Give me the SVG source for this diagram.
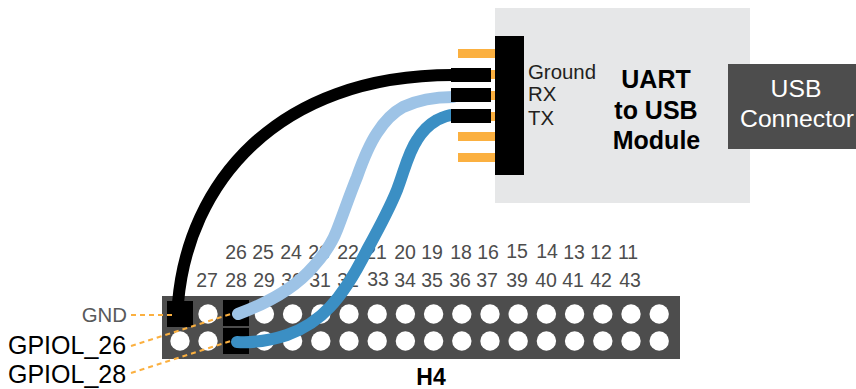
<svg xmlns="http://www.w3.org/2000/svg" width="856" height="389" viewBox="0 0 856 389">
<style>
text{font-family:"Liberation Sans",Arial,sans-serif}
.n{font-size:19.5px;fill:#4d4d4d;text-anchor:middle}
.l{font-size:20.4px;fill:#231f20}
.h{fill:#fff}
.pin{fill:#fbb040}
.blk{fill:#000}
.g{font-size:25px;fill:#000}
.b{font-size:25px;font-weight:bold;fill:#000;text-anchor:middle}
.d{fill:none;stroke:#fbb040;stroke-width:2;stroke-dasharray:5 4}
.w{fill:none;stroke-width:12;stroke-linecap:round}
.u{font-size:24.7px;fill:#fff;text-anchor:middle}
</style>
<g id="uart-module">
<rect x="495" y="8" width="255" height="195" fill="#e6e7e8"/>
<rect class="pin" x="458" y="49" width="39" height="9"/>
<rect class="pin" x="458" y="70" width="39" height="9"/>
<rect class="pin" x="458" y="91" width="39" height="9"/>
<rect class="pin" x="458" y="112" width="39" height="9"/>
<rect class="pin" x="458" y="132" width="39" height="9"/>
<rect class="pin" x="458" y="153" width="39" height="9"/>
<rect class="blk" x="495" y="36" width="29" height="139"/>
<text class="l" x="528" y="79">Ground</text>
<text class="l" x="528" y="101">RX</text>
<text class="l" x="528" y="125">TX</text>
<text class="b" x="656" y="88">UART</text>
<text class="b" x="656" y="119">to USB</text>
<text class="b" x="656.500" y="149">Module</text>
</g>
<g id="usb-connector">
<rect x="728" y="64" width="128" height="85" fill="#4d4d4d"/>
<text class="u" x="796" y="97">USB</text>
<text class="u" x="797" y="127">Connector</text>
</g>
<g id="header-h4">
<rect x="162" y="296" width="518" height="63" fill="#4d4d4d"/>
<g id="holes">
<circle class="h" cx="208" cy="314" r="9.7"/><circle class="h" cx="264.400" cy="314" r="9.7"/><circle class="h" cx="292.600" cy="314" r="9.7"/><circle class="h" cx="320.800" cy="314" r="9.7"/><circle class="h" cx="349" cy="314" r="9.7"/><circle class="h" cx="377.200" cy="314" r="9.7"/><circle class="h" cx="405.400" cy="314" r="9.7"/><circle class="h" cx="433.600" cy="314" r="9.7"/><circle class="h" cx="461.800" cy="314" r="9.7"/><circle class="h" cx="490" cy="314" r="9.7"/><circle class="h" cx="518.200" cy="314" r="9.7"/><circle class="h" cx="546.400" cy="314" r="9.7"/><circle class="h" cx="574.600" cy="314" r="9.7"/><circle class="h" cx="602.800" cy="314" r="9.7"/><circle class="h" cx="631" cy="314" r="9.7"/><circle class="h" cx="659.200" cy="314" r="9.7"/>
<circle class="h" cx="180" cy="341" r="9.7"/><circle class="h" cx="208" cy="341" r="9.7"/><circle class="h" cx="264.400" cy="341" r="9.7"/><circle class="h" cx="292.600" cy="341" r="9.7"/><circle class="h" cx="320.800" cy="341" r="9.7"/><circle class="h" cx="349" cy="341" r="9.7"/><circle class="h" cx="377.200" cy="341" r="9.7"/><circle class="h" cx="405.400" cy="341" r="9.7"/><circle class="h" cx="433.600" cy="341" r="9.7"/><circle class="h" cx="461.800" cy="341" r="9.7"/><circle class="h" cx="490" cy="341" r="9.7"/><circle class="h" cx="518.200" cy="341" r="9.7"/><circle class="h" cx="546.400" cy="341" r="9.7"/><circle class="h" cx="574.600" cy="341" r="9.7"/><circle class="h" cx="602.800" cy="341" r="9.7"/><circle class="h" cx="631" cy="341" r="9.7"/><circle class="h" cx="659.200" cy="341" r="9.7"/>
</g>
<rect class="blk" x="167" y="301" width="26" height="26"/>
<rect class="blk" x="223" y="300" width="26" height="26"/>
<rect class="blk" x="223" y="328" width="26" height="26"/>
<text x="431" y="385" text-anchor="middle" font-size="23" font-weight="bold" fill="#000">H4</text>
</g>
<g id="pin-numbers">
<text class="n" x="236" y="259">26</text><text class="n" x="263" y="259">25</text><text class="n" x="291" y="259">24</text><text class="n" x="319" y="259">23</text><text class="n" x="348" y="259">22</text><text class="n" x="376" y="259">21</text><text class="n" x="405" y="259">20</text><text class="n" x="432" y="259">19</text><text class="n" x="461" y="259">18</text><text class="n" x="488" y="259">16</text><text class="n" x="517" y="258">15</text><text class="n" x="547" y="258">14</text><text class="n" x="574" y="259">13</text><text class="n" x="601" y="259">12</text><text class="n" x="628" y="259">11</text>
<text class="n" x="207" y="287">27</text><text class="n" x="236" y="287">28</text><text class="n" x="264" y="287">29</text><text class="n" x="292" y="287">30</text><text class="n" x="320" y="287">31</text><text class="n" x="348" y="287">32</text><text class="n" x="378" y="286">33</text><text class="n" x="405" y="287">34</text><text class="n" x="432" y="287">35</text><text class="n" x="460" y="287">36</text><text class="n" x="487" y="287">37</text><text class="n" x="517" y="287">39</text><text class="n" x="546" y="287">40</text><text class="n" x="573" y="287">41</text><text class="n" x="601" y="287">42</text><text class="n" x="630" y="287">43</text>
</g>
<g id="connectors">
<path class="w" style="stroke:#000;stroke-linecap:butt" d="M178 303C188 185 275 75 453 75"/>
<path class="w" style="stroke:#9dc3e6" d="M238 314C265 304 295 288 313 267C322 257 331 246 337 230C344 212 350 194 357 177C363 160 369 145 377 133C384 122 392 113 403 107C418 100 435 97 453 97"/>
<path class="w" style="stroke:#3b8fc4" d="M237 342C255 343 272 340 287 335C304 329 318 320 330 307C346 290 357 270 367 250C378 230 389 210 397 190C404 172 408 153 417 140C423 130 430 124 437 120C443 117 448 115 453 115"/>
<rect class="blk" x="451" y="68" width="40" height="14"/>
<rect class="blk" x="451" y="88" width="40" height="14"/>
<rect class="blk" x="451" y="109" width="40" height="14"/>
<path class="d" d="M131 315H176"/>
<path class="d" d="M131 346L231 314"/>
<path class="d" d="M131 373L231 341"/>
</g>
<g id="labels">
<text x="127" y="322" text-anchor="end" font-size="20.400" fill="#58595b">GND</text>
<text class="g" x="8" y="354">GPIOL_26</text>
<text class="g" x="8" y="383">GPIOL_28</text>
</g>
</svg>
